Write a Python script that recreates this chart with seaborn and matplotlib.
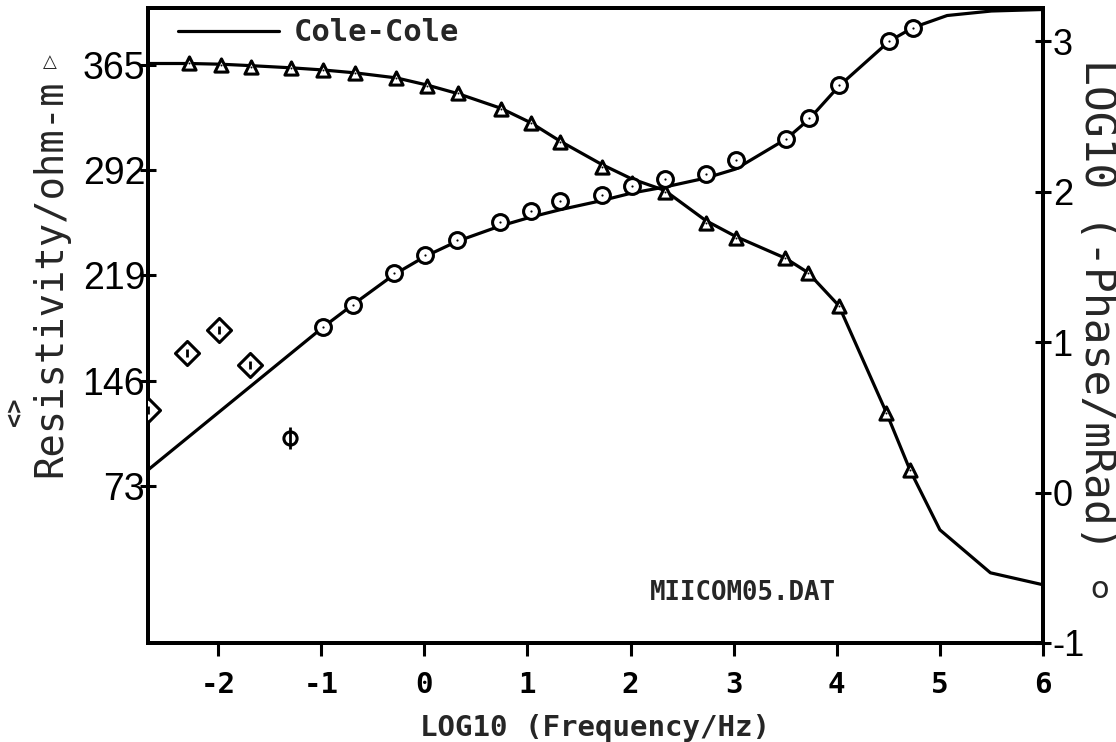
import matplotlib
matplotlib.use("Agg")
import matplotlib.pyplot as plt
import seaborn as sns
from matplotlib.lines import Line2D

# resistivity data (triangles, left axis)
res_x = [-2.28, -1.97, -1.68, -1.29, -0.98, -0.67, -0.27, 0.03, 0.33, 0.74, 1.03,
         1.32, 1.72, 2.01, 2.33, 2.73, 3.02, 3.50, 3.72, 4.02, 4.48, 4.71]
res_y = [366.4, 365.0, 363.6, 363.0, 361.5, 359.5, 356.0, 350.4, 345.6, 334.5, 324.8,
         311.6, 294.3, 283.2, 276.9, 255.4, 245.0, 231.0, 220.7, 197.9, 123.7, 84.1]

# Cole-Cole fit for resistivity
res_fit_x = [-2.68, -2.28, -1.97, -1.68, -1.29, -0.98, -0.67, -0.27, 0.03, 0.33, 0.74, 1.03,
             1.32, 1.72, 2.01, 2.33, 2.73, 3.02, 3.50, 3.72, 4.02, 4.48, 4.71, 5.0, 5.49, 6.0]
res_fit_y = [366.0, 366.0, 365.5, 364.5, 363.0, 361.5, 359.5, 356.0, 351.0, 345.0, 335.0, 325.0,
             312.0, 296.0, 286.0, 278.0, 257.0, 246.0, 231.0, 221.0, 198.0, 124.0, 84.0, 42.5, 12.7, 4.4]

# phase data (circles, right axis)
ph_x = [-0.98, -0.69, -0.29, 0.01, 0.32, 0.73, 1.03, 1.32, 1.72, 2.01, 2.33, 2.73,
        3.02, 3.51, 3.73, 4.02, 4.51, 4.74]
ph_y = [1.10, 1.245, 1.457, 1.576, 1.68, 1.795, 1.874, 1.94, 1.98, 2.04, 2.086, 2.12,
        2.21, 2.35, 2.49, 2.71, 3.00, 3.09]

# Cole-Cole fit for phase
ph_fit_x = [-2.68, -0.98, -0.69, -0.29, 0.01, 0.32, 0.73, 1.03, 1.32, 1.72, 2.01, 2.33,
            2.73, 3.02, 3.51, 3.73, 4.02, 4.51, 4.74, 5.07, 5.5, 6.0]
ph_fit_y = [0.15, 1.10, 1.25, 1.45, 1.57, 1.67, 1.77, 1.83, 1.88, 1.94, 1.99, 2.03,
            2.09, 2.15, 2.35, 2.48, 2.70, 3.00, 3.09, 3.17, 3.20, 3.21]

# rejected phase points (diamonds) and one odd point
diam_x = [-2.68, -2.30, -1.99, -1.69]
diam_y = [0.55, 0.93, 1.08, 0.85]
odd_x = [-1.30]
odd_y = [0.36]

x_ticks = [-2, -1, 0, 1, 2, 3, 4, 5, 6]
res_ticks = [73, 146, 219, 292, 365]
ph_ticks = [-1, 0, 1, 2, 3]


def main():
	sns.set_style("white")
	plt.rcParams['axes.unicode_minus'] = False
	plt.rcParams['font.family'] = ['DejaVu Sans Mono', 'DejaVu Sans']

	fig = plt.figure(figsize=(11.16, 7.42), dpi=100)
	ax = fig.add_axes([148 / 1116, 1 - 643 / 742, 895 / 1116, 635 / 742])
	ax2 = ax.twinx()

	lw = 2.3
	sns.lineplot(x=res_fit_x, y=res_fit_y, ax=ax, color='black', lw=lw, sort=False, estimator=None)
	sns.scatterplot(x=res_x, y=res_y, ax=ax, marker='^', s=90, color='white', edgecolor='black',
					linewidth=2.2, zorder=5)
	sns.scatterplot(x=res_x, y=res_y, ax=ax, marker='.', s=8, color='black', linewidth=0, zorder=6)

	sns.lineplot(x=ph_fit_x, y=ph_fit_y, ax=ax2, color='black', lw=lw, sort=False, estimator=None)
	sns.scatterplot(x=ph_x, y=ph_y, ax=ax2, marker='o', s=130, color='white', edgecolor='black',
					linewidth=2.2, zorder=5)
	sns.scatterplot(x=ph_x, y=ph_y, ax=ax2, marker='.', s=10, color='black', linewidth=0, zorder=6)

	sns.scatterplot(x=diam_x, y=diam_y, ax=ax2, marker='D', s=150, color='white', edgecolor='black',
					linewidth=2.2, zorder=5)
	sns.scatterplot(x=diam_x, y=diam_y, ax=ax2, marker='|', s=40, color='black', linewidth=2, zorder=6)
	sns.scatterplot(x=odd_x, y=odd_y, ax=ax2, marker='o', s=90, color='white', edgecolor='black',
					linewidth=2.2, zorder=5)
	sns.scatterplot(x=odd_x, y=odd_y, ax=ax2, marker='|', s=260, color='black', linewidth=2, zorder=6)

	ax.set_xlim(-2.68, 6.0)
	ax.set_ylim(-36, 404.5)
	ax2.set_ylim(-1.0, 3.22)
	ax.set_xticks(x_ticks)
	ax.set_xticklabels([str(t) for t in x_ticks])
	ax.set_yticks(res_ticks)
	ax.set_yticklabels([str(t) for t in res_ticks])
	ax2.set_yticks(ph_ticks)
	ax2.set_yticklabels([str(t) for t in ph_ticks])

	for a in (ax, ax2):
		for s in a.spines.values():
			s.set_color('black')
			s.set_linewidth(2.8)
	ax.tick_params(axis='x', direction='out', length=9, width=2.2, pad=11, colors='black', bottom=True)
	ax.tick_params(axis='y', direction='inout', length=12, width=2.2, pad=-4, colors='black', left=True)
	ax2.tick_params(axis='y', direction='inout', length=12, width=2.2, pad=1, colors='black', right=True)

	for lab in ax.get_xticklabels():
		lab.set_fontfamily('DejaVu Sans Mono')
		lab.set_fontweight('bold')
		lab.set_fontsize(21)
	for lab in ax.get_yticklabels():
		lab.set_fontfamily('Liberation Sans')
		lab.set_fontsize(27)
	for lab in ax2.get_yticklabels():
		lab.set_fontfamily('Liberation Sans')
		lab.set_fontsize(26)

	ax.set_xlabel('LOG10 (Frequency/Hz)', fontsize=21, fontweight='bold', labelpad=11)
	ax.set_ylabel('Resistivity/ohm-m', fontsize=28)
	ax.yaxis.set_label_coords(-0.088, 0.575)
	ax2.set_ylabel('LOG10 (-Phase/mRad)', fontsize=31, rotation=270, va='center')
	ax2.yaxis.set_label_coords(1.060, 0.532)

	# symbols next to the axis titles
	fig.text(50 / 1116, 1 - 62 / 742, '\u25b3', fontsize=13, fontweight='bold', ha='center', va='center',
			 family='DejaVu Sans')
	fig.text(15 / 1116, 1 - 412 / 742, '<>', fontsize=17, fontweight='bold', rotation=90, ha='center',
			 va='center')
	fig.text(1100 / 1116, 1 - 590 / 742, 'o', fontsize=22, ha='center', va='center', family='DejaVu Sans')

	ax.text(0.561, 0.078, 'MIICOM05.DAT', transform=ax.transAxes, fontsize=18.5, fontweight='bold',
			ha='left', va='center')

	handle = Line2D([], [], color='black', lw=lw)
	ax2.legend([handle], ['Cole-Cole'], loc='center left', bbox_to_anchor=(0.02, 0.961),
			   frameon=False, handlelength=3.3, borderaxespad=0, handletextpad=0.5,
			   prop={'family': 'DejaVu Sans Mono', 'weight': 'bold', 'size': 22})

	fig.savefig('out.png', dpi=100)


if __name__ == '__main__':
	main()
